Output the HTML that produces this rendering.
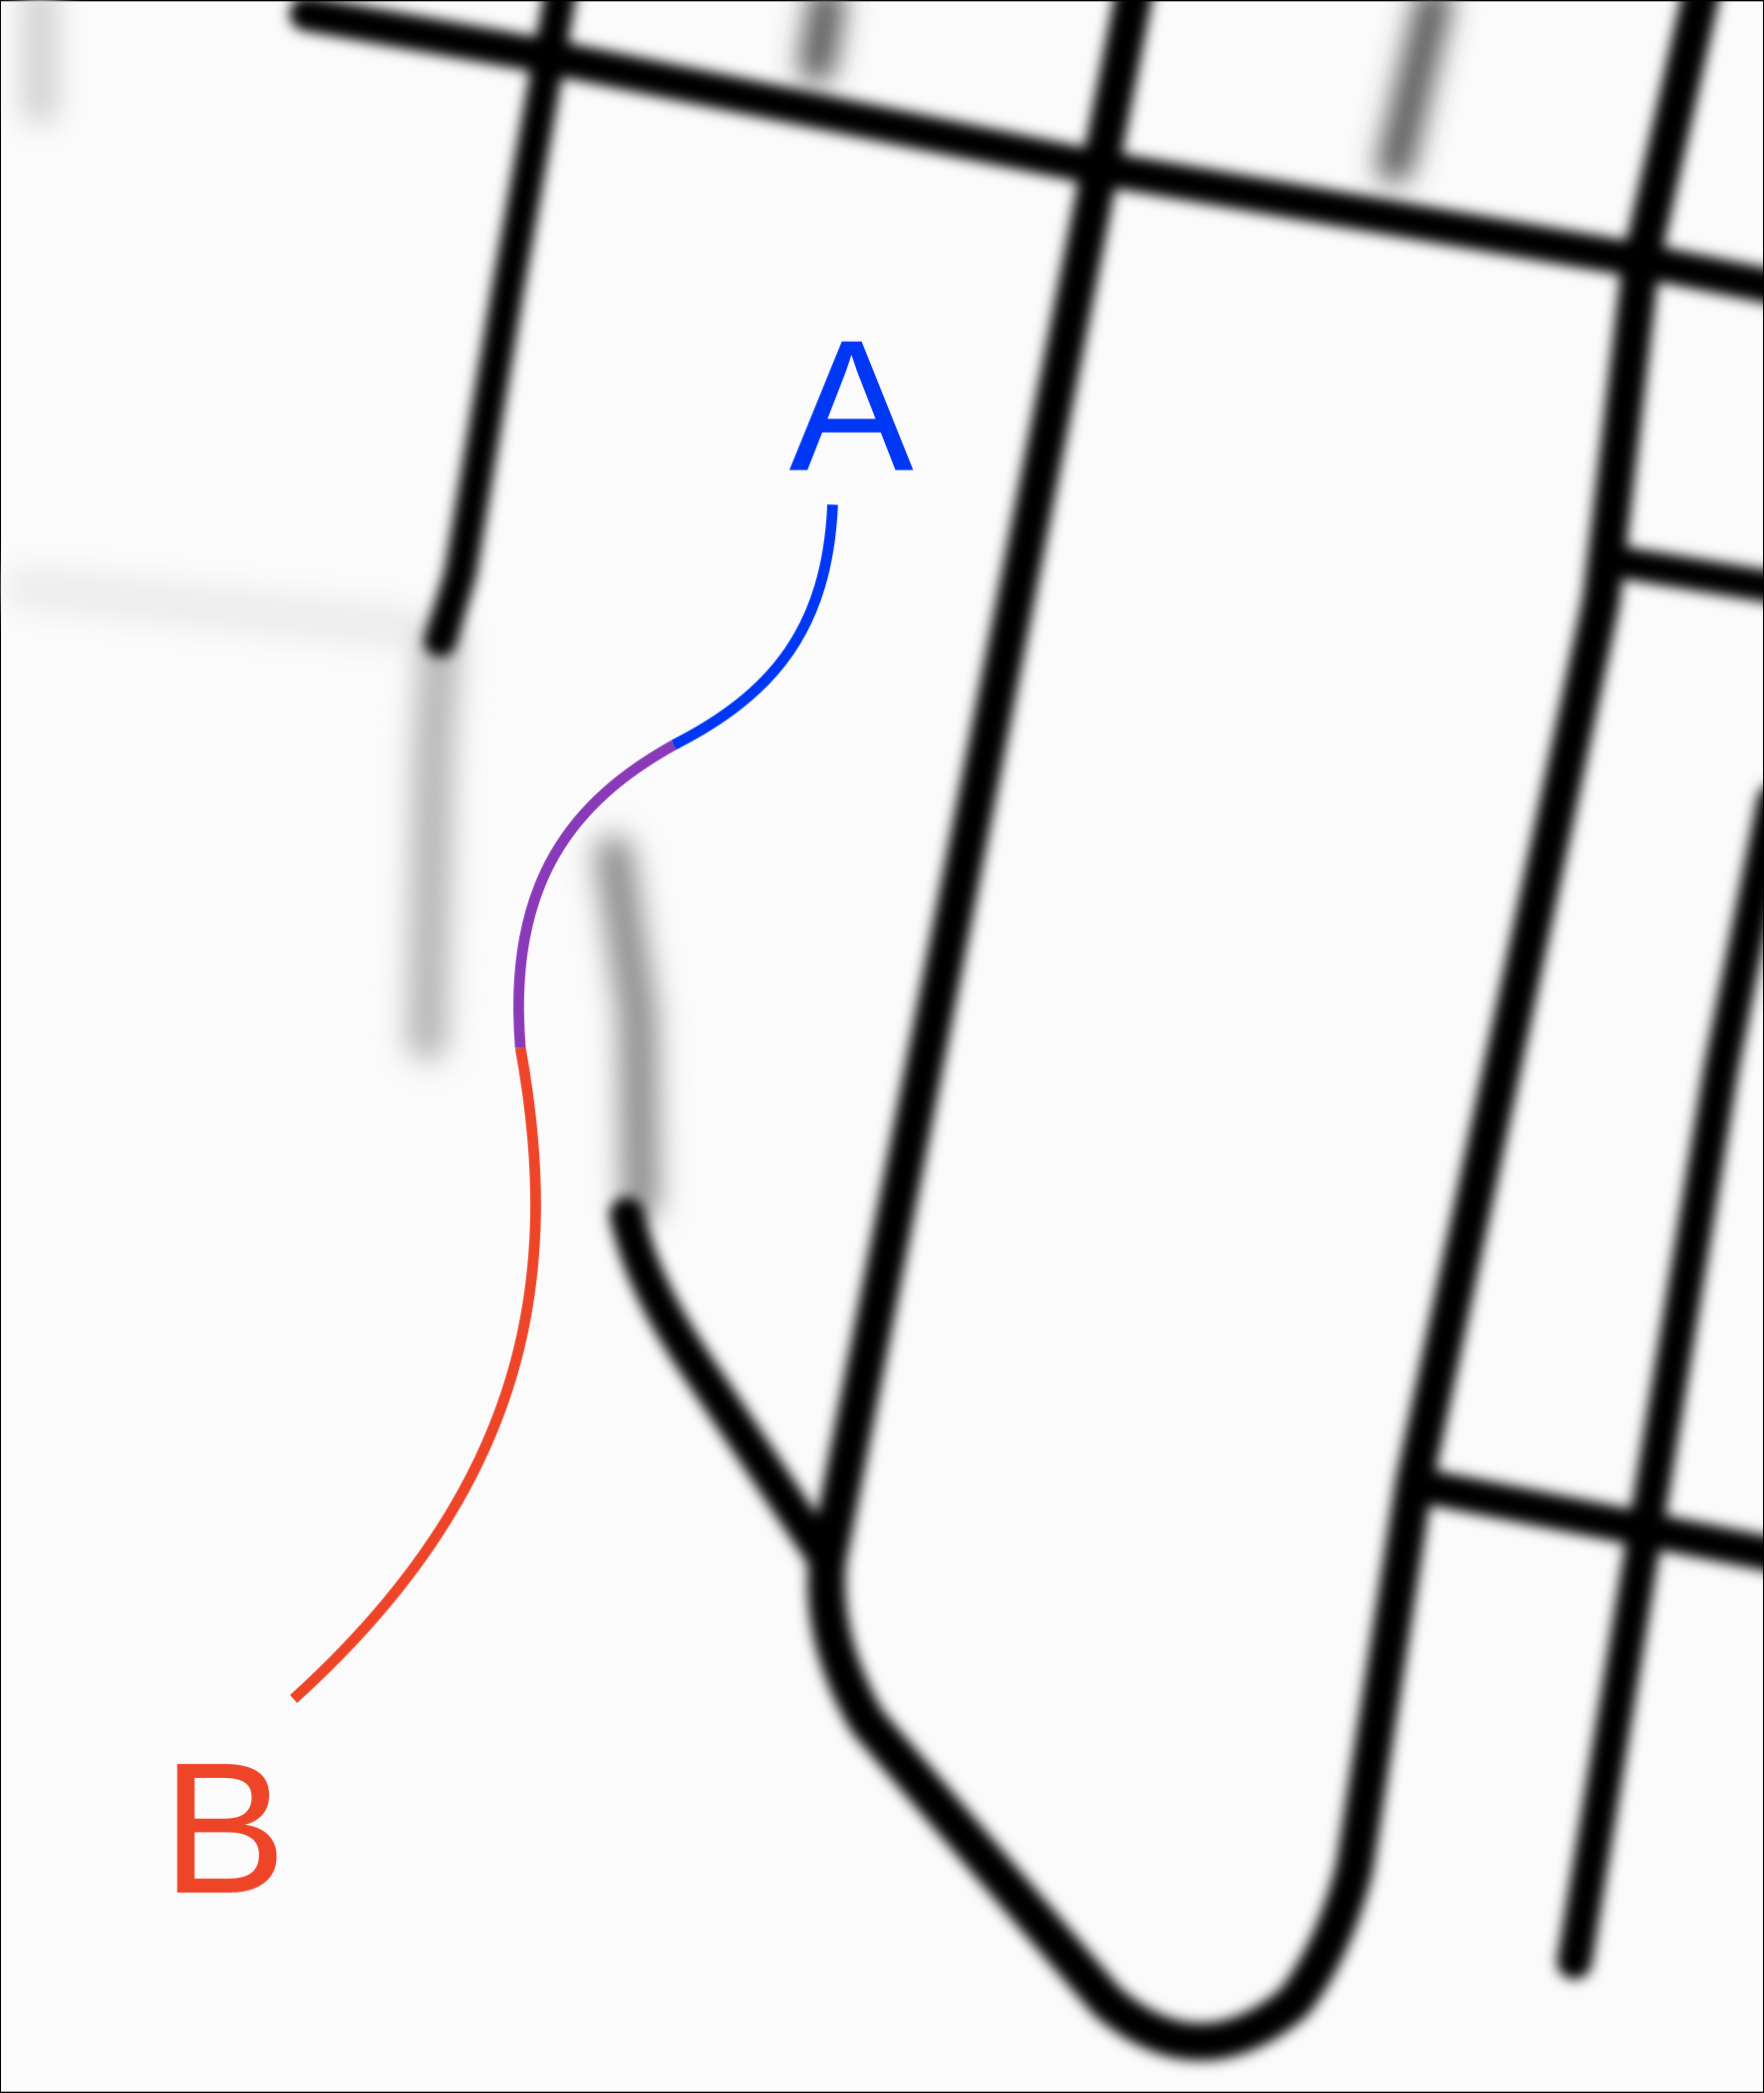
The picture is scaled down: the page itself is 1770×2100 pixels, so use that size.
<!DOCTYPE html>
<html><head><meta charset="utf-8"><style>
html,body{margin:0;padding:0;background:#fbfbfb;}
svg{display:block;}
</style></head><body>
<svg width="1770" height="2100" viewBox="0 0 1322 1568" xmlns="http://www.w3.org/2000/svg">
<defs>
<filter id="blur" x="-10%" y="-10%" width="120%" height="120%"><feGaussianBlur stdDeviation="5"/></filter>
<filter id="blur2" x="-20%" y="-20%" width="140%" height="140%"><feGaussianBlur stdDeviation="11"/></filter>
</defs>
<rect x="0" y="0" width="1322" height="1568" fill="#fbfbfb" stroke="#000" stroke-width="1.5"/>
<g fill="none" stroke-linecap="round" filter="url(#blur2)">
<path d="M330,480 L325,560 L320,780" stroke="#b5b5b5" stroke-width="30"/>
<path d="M460,640 L478,760 L480,900" stroke="#8a8a8a" stroke-width="28"/>
<path d="M30,0 L30,80" stroke="#d0d0d0" stroke-width="26"/>
<path d="M20,440 L300,470" stroke="#ececec" stroke-width="32"/>
<path d="M1075,0 L1045,125" stroke="#444" stroke-width="24"/>
<path d="M620,0 L612,50" stroke="#444" stroke-width="24"/>
</g>
<g fill="none" stroke="#000" stroke-linecap="round" stroke-linejoin="round" filter="url(#blur)">
<path d="M230,10 L410,42 L820,125 L1230,195 L1330,215" stroke-width="26"/>
<path d="M420,-5 L380,220 L345,430 L330,480" stroke-width="24"/>
<path d="M470,910 Q480,960 520,1020 L620,1170" stroke-width="26"/>
<path d="M850,-5 L620,1170 Q615,1230 650,1290 L830,1500 Q900,1560 970,1500 Q1000,1460 1015,1400 L1060,1110 L1200,450 L1230,195 L1275,-5" stroke-width="28"/>
<path d="M1330,600 L1290,800 L1180,1470" stroke-width="26"/>
<path d="M1220,422 L1330,440" stroke-width="24"/>
<path d="M1075,1115 L1330,1165" stroke-width="26"/>
</g>
<g fill="none" stroke-width="8">
<path d="M624,378 C620,470 580,520 505,558" stroke="#0037F5"/>
<path d="M505,558 C430,600 380,660 390,785" stroke="#8A3AB9"/>
<path d="M390,785 C420,950 400,1110 220,1273" stroke="#EE4427"/>
</g>
<text x="638" y="352" text-anchor="middle" font-family="Liberation Sans, sans-serif" font-size="140" fill="#0037F5">A</text>
<text x="168" y="1418" text-anchor="middle" font-family="Liberation Sans, sans-serif" font-size="140" fill="#EE4427">B</text>
</svg>
</body></html>
